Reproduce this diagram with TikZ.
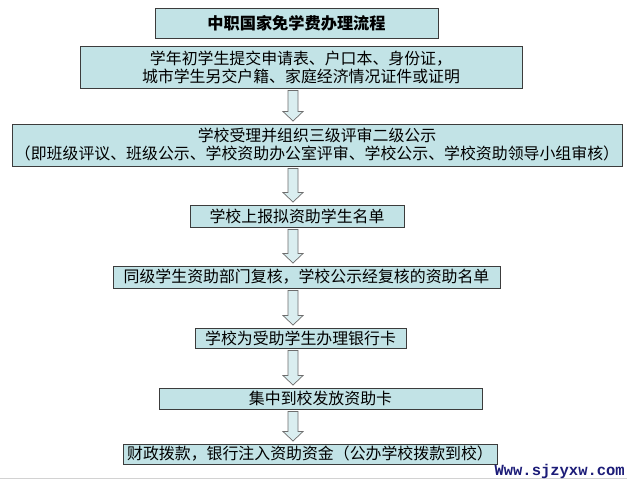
\documentclass[tikz,border=0pt]{standalone}
\usepackage{fontspec}
\setmainfont{Noto Sans CJK SC}
\newfontfamily\urlfont{Liberation Mono}
\usetikzlibrary{calc,shadows}

\definecolor{boxfill}{HTML}{C2E3E6}
\definecolor{boxline}{HTML}{3C3C3C}
\definecolor{arrowline}{HTML}{6E6E6E}
\definecolor{urlblue}{HTML}{1C1C78}

\tikzset{
  stepbox/.style={draw=boxline, line width=0.9pt, fill=boxfill, inner sep=0pt,
    align=center, font=\fontsize{15.9}{18}\selectfont,
    drop shadow={shadow xshift=1.2pt, shadow yshift=-1.2pt, fill=gray!55, opacity=1}},
  flowarrow/.style={draw=arrowline, line width=0.7pt, fill=boxfill!60!white, line join=miter}
}

% 空心箭头
\newcommand{\flowarrow}[2]{%
  \path[flowarrow] let \p1=(#1.south -| axis), \p2=(#2.north -| axis) in
    (\x1-5pt,\y1-2pt) -- (\x1+5pt,\y1-2pt) -- (\x1+5pt,\y2+12pt)
    -- (\x1+10pt,\y2+12pt) -- (\x1,\y2+2.5pt) -- (\x1-10pt,\y2+12pt)
    -- (\x1-5pt,\y2+12pt) -- cycle;}

\begin{document}
\begin{tikzpicture}[x=1pt, y=-1pt]
    \useasboundingbox[fill=white] (0,0) rectangle (627,481);
    \coordinate (axis) at (293,0);

    % 标题
    \node (title) [stepbox, minimum width=283pt, minimum height=30pt,
      font=\fontsize{16.2}{18}\selectfont\bfseries] at (296.5,23) {中职国家免学费办理流程};

    % 流程步骤
    \node (apply) [stepbox, minimum width=442pt, minimum height=42pt] at (301,67)
    {学年初学生提交申请表、户口本、身份证，\\城市学生另交户籍、家庭经济情况证件或证明};

    \node (review) [stepbox, minimum width=610pt, minimum height=42pt] at (317,145)
    {学校受理并组织三级评审二级公示\\（即班级评议、班级公示、学校资助办公室评审、学校公示、学校资助领导小组审核）};

    \node (report) [stepbox, minimum width=214pt, minimum height=22pt] at (297,216)
    {学校上报拟资助学生名单};

    \node (recheck) [stepbox, minimum width=387pt, minimum height=22pt] at (306.5,277)
    {同级学生资助部门复核，学校公示经复核的资助名单};

    \node (bankcard) [stepbox, minimum width=211pt, minimum height=20pt] at (300.5,338)
    {学校为受助学生办理银行卡};

    \node (issue) [stepbox, minimum width=323pt, minimum height=21pt] at (320.5,398.5)
    {集中到校发放资助卡};

    \node (funds) [stepbox, minimum width=374pt, minimum height=20pt] at (310,454)
    {财政拨款，银行注入资助资金（公办学校拨款到校）};

    % 箭头
    \flowarrow{apply}{review}
    \flowarrow{review}{report}
    \flowarrow{report}{recheck}
    \flowarrow{recheck}{bankcard}
    \flowarrow{bankcard}{issue}
    \flowarrow{issue}{funds}

    % 网址
    \draw[gray!35, line width=0.8pt] (0,478.5) -- (627,478.5);
    \node (site) [anchor=base east, inner sep=0pt, text=urlblue,
      font=\urlfont\fontsize{15.5}{15.5}\selectfont\bfseries] at (625,475) {Www.sjzyxw.com};
\end{tikzpicture}
\end{document}
